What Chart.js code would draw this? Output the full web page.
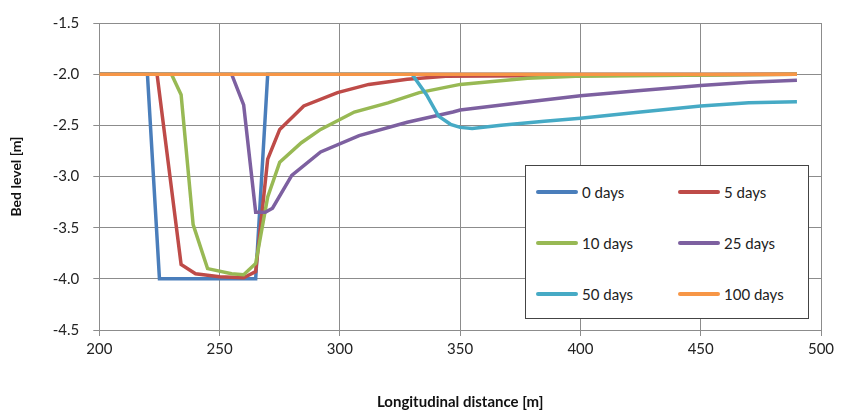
<!DOCTYPE html>
<html>
<head>
<meta charset="utf-8">
<script src="https://cdn.jsdelivr.net/npm/chart.js@4/dist/chart.umd.min.js"></script>
<style>
    html, body { margin: 0; padding: 0; background: #fff; }
    #wrap { position: relative; width: 841px; height: 411px; }
    #legend {
        position: absolute; left: 525px; top: 165px; width: 284px; height: 154px;
        border: 1px solid #444; background: #fff; box-sizing: border-box;
        font-family: Lato, "Open Sans", sans-serif; font-size: 15px; color: #222;
    }
    .item { position: absolute; display: flex; align-items: center; }
    .item span.ln { display: inline-block; width: 42px; height: 4px; border-radius: 2px; margin-right: 4px; }
</style>
</head>
<body>
<div id="wrap">
    <canvas id="chart" width="841" height="411"></canvas>
    <div id="legend"></div>
</div>
<script>
// values
const seriesNames = ["0 days", "5 days", "10 days", "25 days", "50 days", "100 days"];
const seriesColors = ["#4a7ebb", "#be4b48", "#98b954", "#7d60a0", "#46aac5", "#f79646"];

const day0X = [200, 220, 225, 265, 270, 490];
const day0Y = [-2.0, -2.0, -4.0, -4.0, -2.0, -2.0];

const day5X = [200, 224, 234, 240, 250, 260, 265, 270, 275, 285, 299, 312, 328, 344, 490];
const day5Y = [-2.0, -2.0, -3.86, -3.95, -3.98, -3.99, -3.93, -2.83, -2.54, -2.31, -2.18, -2.10, -2.05, -2.02, -2.0];

const day10X = [200, 230, 234, 239, 245, 255, 260, 265, 270, 275, 284, 292, 306, 320, 333, 350, 378, 398, 490];
const day10Y = [-2.0, -2.0, -2.2, -3.47, -3.9, -3.95, -3.96, -3.85, -3.2, -2.86, -2.67, -2.54, -2.37, -2.28, -2.18, -2.10, -2.04, -2.02, -2.0];

const day25X = [200, 255, 260, 265, 269, 272, 280, 292, 308, 328, 347, 350, 375, 400, 425, 450, 470, 490];
const day25Y = [-2.0, -2.0, -2.3, -3.35, -3.35, -3.31, -2.99, -2.76, -2.60, -2.47, -2.37, -2.35, -2.28, -2.21, -2.16, -2.11, -2.08, -2.06];

const day50X = [200, 330, 336, 341, 346, 350, 355, 367, 385, 400, 425, 450, 470, 490];
const day50Y = [-2.0, -2.0, -2.2, -2.41, -2.49, -2.52, -2.53, -2.50, -2.46, -2.43, -2.37, -2.31, -2.28, -2.27];

const day100X = [200, 490];
const day100Y = [-2.0, -2.0];

const xTicks = [200, 250, 300, 350, 400, 450, 500];
const yTicks = [-1.5, -2.0, -2.5, -3.0, -3.5, -4.0, -4.5];

function toPoints(xs, ys) {
    return xs.map(function (x, i) { return { x: x, y: ys[i] }; });
}

const allX = [day0X, day5X, day10X, day25X, day50X, day100X];
const allY = [day0Y, day5Y, day10Y, day25Y, day50Y, day100Y];

const datasets = seriesNames.map(function (name, i) {
    return {
        label: name,
        data: toPoints(allX[i], allY[i]),
        borderColor: seriesColors[i],
        backgroundColor: seriesColors[i],
        borderWidth: 3.5,
        pointRadius: 0,
        tension: 0,
        // later series drawn on top, like the original
        order: seriesNames.length - i
    };
});

const fontFamily = 'Lato, "Open Sans", sans-serif';

new Chart(document.getElementById("chart"), {
    type: "line",
    data: { datasets: datasets },
    options: {
        responsive: false,
        animation: false,
        layout: { padding: { left: 8, right: 20, top: 12, bottom: 0 } },
        scales: {
            x: {
                type: "linear",
                min: 200,
                max: 500,
                afterBuildTicks: function (axis) {
                    axis.ticks = xTicks.map(function (v) { return { value: v }; });
                },
                grid: { color: "#8c8c8c", lineWidth: 1, tickLength: 6 },
                border: { color: "#8c8c8c" },
                ticks: { color: "#222", font: { family: fontFamily, size: 15 }, padding: 4 },
                title: {
                    display: true,
                    text: "Longitudinal distance [m]",
                    color: "#111",
                    font: { family: fontFamily, size: 15, weight: "bold" },
                    padding: { top: 31, bottom: 0 }
                }
            },
            y: {
                min: -4.5,
                max: -1.5,
                afterBuildTicks: function (axis) {
                    axis.ticks = yTicks.map(function (v) { return { value: v }; });
                },
                grid: { color: "#8c8c8c", lineWidth: 1, tickLength: 6 },
                border: { color: "#8c8c8c" },
                ticks: {
                    color: "#222",
                    font: { family: fontFamily, size: 15 },
                    padding: 14,
                    callback: function (v) { return Number(v).toFixed(1); }
                },
                title: {
                    display: true,
                    text: "Bed level [m]",
                    color: "#111",
                    font: { family: fontFamily, size: 14, weight: "bold" },
                    padding: { top: 0, bottom: 14 }
                }
            }
        },
        plugins: {
            legend: { display: false },
            tooltip: { enabled: false }
        }
    }
});

// legend box inside the plot
var legendHtml = seriesNames.map(function (name, i) {
    var col = i % 2, row = Math.floor(i / 2);
    var left = col == 0 ? 10 : 152;
    var top = 17 + row * 51;
    return '<div class="item" style="left:' + left + 'px;top:' + top + 'px">' +
        '<span class="ln" style="background:' + seriesColors[i] + '"></span>' + name + '</div>';
}).join("");
document.getElementById("legend").innerHTML = legendHtml;
</script>
</body>
</html>
